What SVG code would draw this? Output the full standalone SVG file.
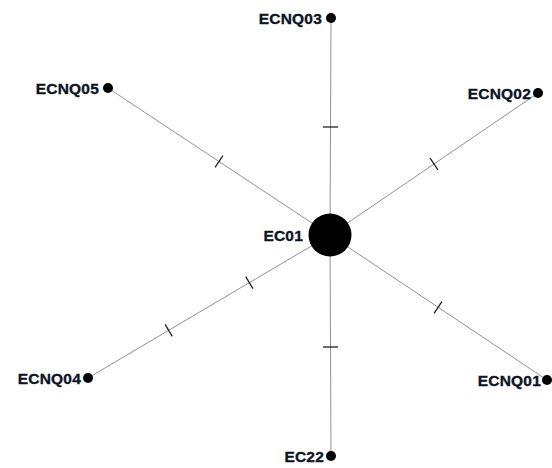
<svg xmlns="http://www.w3.org/2000/svg" width="552" height="468" viewBox="0 0 552 468">
  <style>
    .edge { stroke: #929292; stroke-width: 1; fill: none; }
    .tick { stroke: #222; stroke-width: 1.3; fill: none; }
    .dot { fill: #000; }
    .lbl { font-family: "Liberation Sans", Arial, sans-serif; font-weight: bold; font-size: 15.5px; letter-spacing: 0.2px; fill: #0c1424; stroke: #0c1424; stroke-width: 0.35; text-anchor: end; }
  </style>
  <rect width="552" height="468" fill="#fff"/>

  <!-- connectors radiating from the hub -->
  <g id="connectors">
    <line class="edge" x1="330" y1="235" x2="331" y2="18"/>
    <line class="edge" x1="330" y1="235" x2="108" y2="88"/>
    <line class="edge" x1="330" y1="235" x2="538" y2="93"/>
    <line class="edge" x1="330" y1="235" x2="88" y2="378"/>
    <line class="edge" x1="330" y1="235" x2="547" y2="380"/>
    <line class="edge" x1="330" y1="235" x2="331" y2="456"/>
    <!-- cross ticks -->
    <line class="tick" x1="323" y1="127" x2="338" y2="127"/>
    <line class="tick" x1="323" y1="347" x2="338" y2="347"/>
    <line class="tick" x1="215.1" y1="167.3" x2="222.9" y2="155.7"/>
    <line class="tick" x1="430.1" y1="158.2" x2="437.9" y2="169.8"/>
    <line class="tick" x1="165.1" y1="324.3" x2="172.2" y2="336.3"/>
    <line class="tick" x1="245.7" y1="276.7" x2="252.9" y2="288.7"/>
    <line class="tick" x1="434.1" y1="313.3" x2="441.9" y2="301.7"/>
  </g>

  <g id="EC01">
    <circle cx="330" cy="235" r="21.5" class="dot"/>
    <text class="lbl" x="303" y="240.5">EC01</text>
  </g>
  <g id="ECNQ03">
    <circle cx="331" cy="18" r="5" class="dot"/>
    <text class="lbl" x="322" y="23.5">ECNQ03</text>
  </g>
  <g id="ECNQ05">
    <circle cx="108" cy="88" r="5" class="dot"/>
    <text class="lbl" x="99" y="93.5">ECNQ05</text>
  </g>
  <g id="ECNQ02">
    <circle cx="538" cy="93" r="5" class="dot"/>
    <text class="lbl" x="531" y="98.5">ECNQ02</text>
  </g>
  <g id="ECNQ04">
    <circle cx="88" cy="378" r="5" class="dot"/>
    <text class="lbl" x="81" y="383.5">ECNQ04</text>
  </g>
  <g id="ECNQ01">
    <circle cx="547" cy="380" r="5" class="dot"/>
    <text class="lbl" x="541" y="385.5">ECNQ01</text>
  </g>
  <g id="EC22">
    <circle cx="331" cy="456" r="5" class="dot"/>
    <text class="lbl" x="324" y="461.5">EC22</text>
  </g>
</svg>
